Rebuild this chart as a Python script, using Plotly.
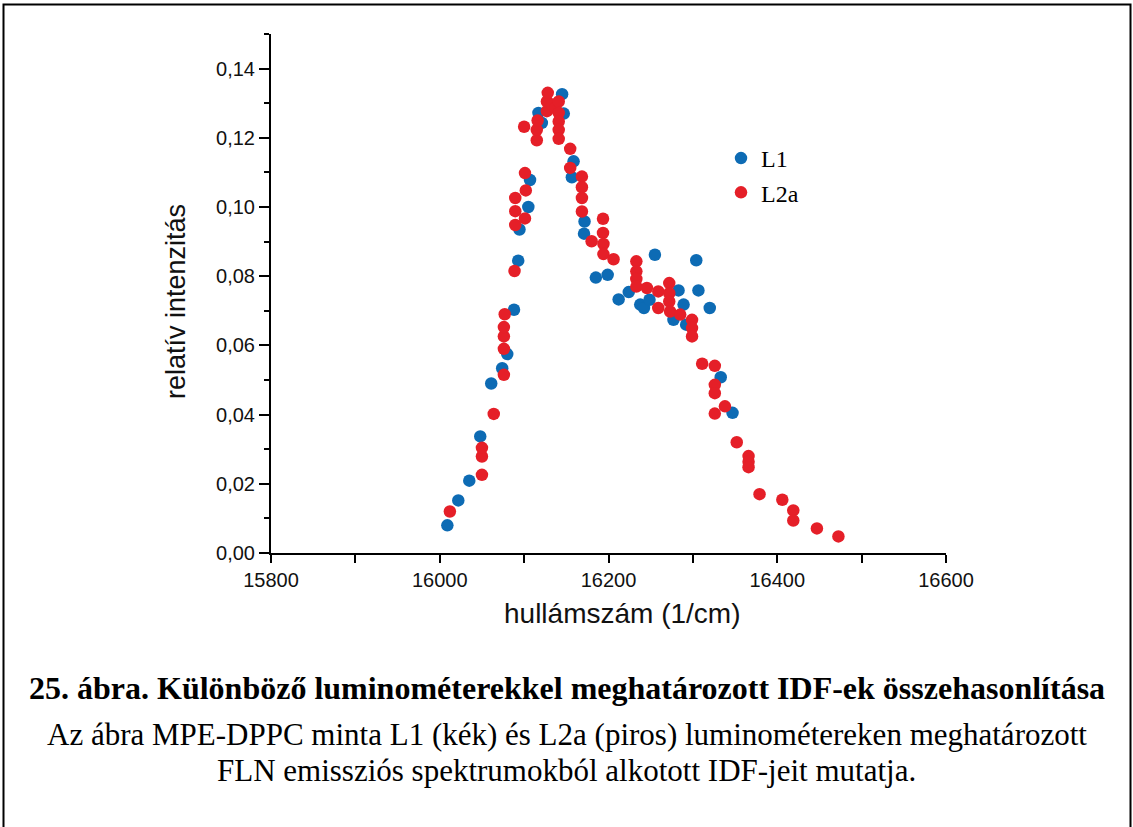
import plotly.graph_objects as go

# ---- data ----
l1_x = [16009, 16022, 16035, 16048, 16061, 16074, 16080, 16088, 16093, 16094.5,
        16105, 16107, 16117, 16121, 16145, 16147, 16158.6, 16156.6, 16171.6, 16171,
        16185, 16199, 16212, 16224, 16237.6, 16242, 16248.6, 16255, 16277, 16283,
        16289, 16292, 16304, 16306.6, 16320, 16333, 16347]
l1_y = [0.0080, 0.0152, 0.0209, 0.0337, 0.0490, 0.0534, 0.0575, 0.0703, 0.0845, 0.0935,
        0.1000, 0.1078, 0.1272, 0.1243, 0.1326, 0.1270, 0.1132, 0.1086, 0.0958, 0.0923,
        0.0796, 0.0804, 0.0733, 0.0754, 0.0718, 0.0708, 0.0732, 0.0862, 0.0674, 0.0759,
        0.0718, 0.0660, 0.0846, 0.0759, 0.0708, 0.0508, 0.0405]

l2a_x = [16012, 16050, 16050, 16050, 16064, 16076, 16076, 16076, 16076, 16077,
         16088.6, 16089.5, 16089.5, 16089.5, 16101, 16102, 16101, 16100, 16115, 16115,
         16116, 16127, 16127, 16128, 16133, 16137, 16141, 16141, 16141, 16141,
         16141, 16154.6, 16154.6, 16168.5, 16168.5, 16168.5, 16168.5, 16180, 16193.5, 16193.5,
         16194, 16194, 16206, 16233, 16233, 16233, 16233, 16245.5, 16259, 16259,
         16272, 16272, 16272, 16273, 16285, 16299, 16299, 16299, 16311, 16326,
         16326, 16326, 16338, 16326, 16352, 16366, 16366, 16366, 16379, 16406,
         16419, 16419, 16447, 16472.5]
l2a_y = [0.0120, 0.0226, 0.0279, 0.0304, 0.0402, 0.0515, 0.0590, 0.0626, 0.0653, 0.0690,
         0.0815, 0.0948, 0.0988, 0.1026, 0.0967, 0.1048, 0.1098, 0.1232, 0.1193, 0.1223,
         0.1250, 0.1277, 0.1305, 0.1330, 0.1296, 0.1286, 0.1305, 0.1272, 0.1247, 0.1223,
         0.1197, 0.1168, 0.1113, 0.1088, 0.1057, 0.1026, 0.0987, 0.0901, 0.0966, 0.0925,
         0.0893, 0.0864, 0.0849, 0.0843, 0.0814, 0.0792, 0.0770, 0.0766, 0.0756, 0.0708,
         0.0780, 0.0751, 0.0727, 0.0698, 0.0689, 0.0674, 0.0650, 0.0626, 0.0547, 0.0541,
         0.0486, 0.0462, 0.0424, 0.0403, 0.0320, 0.0280, 0.0264, 0.0248, 0.0170, 0.0154,
         0.0123, 0.0094, 0.0071, 0.0048]

series_names = ["L1", "L2a"]
x_title = "hullámszám (1/cm)"
y_title = "relatív intenzitás"
caption_title = "25. ábra. Különböző luminométerekkel meghatározott IDF-ek összehasonlítása"
caption_line1 = "Az ábra MPE-DPPC minta L1 (kék) és L2a (piros) luminométereken meghatározott"
caption_line2 = "FLN emissziós spektrumokból alkotott IDF-jeit mutatja."

BLUE = "#0d6bb4"
RED = "#e51f28"

# ---- layout geometry (pixels) ----
W, H = 1133, 827
L, R, T, B = 271, 187, 34, 274
PW, PH = W - L - R, H - T - B


def px_x(px):
    return (px - L) / PW


def px_y(py):
    return (H - B - py) / PH


fig = go.Figure()
fig.add_trace(go.Scatter(x=l1_x, y=l1_y, mode="markers", name=series_names[0],
                         marker=dict(color=BLUE, size=12.5, line=dict(width=0))))
fig.add_trace(go.Scatter(x=l2a_x, y=l2a_y, mode="markers", name=series_names[1],
                         marker=dict(color=RED, size=12.5, line=dict(width=0))))

sans = "Liberation Sans, Arial, sans-serif"
serif = "Liberation Serif, Times New Roman, serif"
axis_font = dict(family=sans, size=20, color="#111")

fig.update_xaxes(range=[15800, 16600], dtick=200, tick0=15800, tickformat="d",
                 ticks="outside", ticklen=8, tickwidth=2, tickcolor="black",
                 showline=True, linewidth=2, linecolor="black", mirror=False,
                 showgrid=False, zeroline=False, tickfont=axis_font,
                 minor=dict(dtick=100, tick0=15800, ticks="outside", ticklen=8,
                            tickwidth=2, tickcolor="black", showgrid=False))
fig.update_yaxes(range=[0, 0.15], dtick=0.02, tick0=0, tickformat=".2f",
                 ticks="outside", ticklen=10, tickwidth=2, tickcolor="black",
                 showline=True, linewidth=2, linecolor="black", mirror=False,
                 showgrid=False, zeroline=False, tickfont=axis_font,
                 minor=dict(dtick=0.01, tick0=0, ticks="outside", ticklen=5,
                            tickwidth=2, tickcolor="black", showgrid=False))

fig.update_layout(
    width=W, height=H,
    margin=dict(l=L, r=R, t=T, b=B, pad=0),
    paper_bgcolor="white", plot_bgcolor="white",
    separators=",.",
    showlegend=True,
    legend=dict(x=px_x(721), y=px_y(136), xanchor="left", yanchor="top",
                bgcolor="rgba(0,0,0,0)", borderwidth=0,
                font=dict(family=serif, size=24, color="black"),
                itemwidth=30, tracegroupgap=0),
)

# axis titles
fig.add_annotation(x=px_x(622), y=px_y(613), xref="paper", yref="paper",
                   text=x_title, showarrow=False, xanchor="center", yanchor="middle",
                   font=dict(family=sans, size=28, color="#111"))
fig.add_annotation(x=px_x(176), y=px_y(302), xref="paper", yref="paper",
                   text=y_title, showarrow=False, textangle=-90,
                   xanchor="center", yanchor="middle",
                   font=dict(family=sans, size=27, color="#111"))

# caption
fig.add_annotation(x=px_x(566.5), y=px_y(688), xref="paper", yref="paper",
                   text="<b>" + caption_title + "</b>", showarrow=False,
                   xanchor="center", yanchor="middle",
                   font=dict(family=serif, size=32, color="black"))
fig.add_annotation(x=px_x(566.5), y=px_y(734), xref="paper", yref="paper",
                   text=caption_line1, showarrow=False,
                   xanchor="center", yanchor="middle",
                   font=dict(family=serif, size=31, color="black"))
fig.add_annotation(x=px_x(566.5), y=px_y(770), xref="paper", yref="paper",
                   text=caption_line2, showarrow=False,
                   xanchor="center", yanchor="middle",
                   font=dict(family=serif, size=31, color="black"))

# outer frame
fig.add_shape(type="rect", xref="paper", yref="paper",
              x0=px_x(3.5), x1=px_x(1130.5), y0=px_y(840), y1=px_y(4.5),
              line=dict(color="black", width=2), fillcolor="rgba(0,0,0,0)", layer="below")

fig.write_html("out.html")
